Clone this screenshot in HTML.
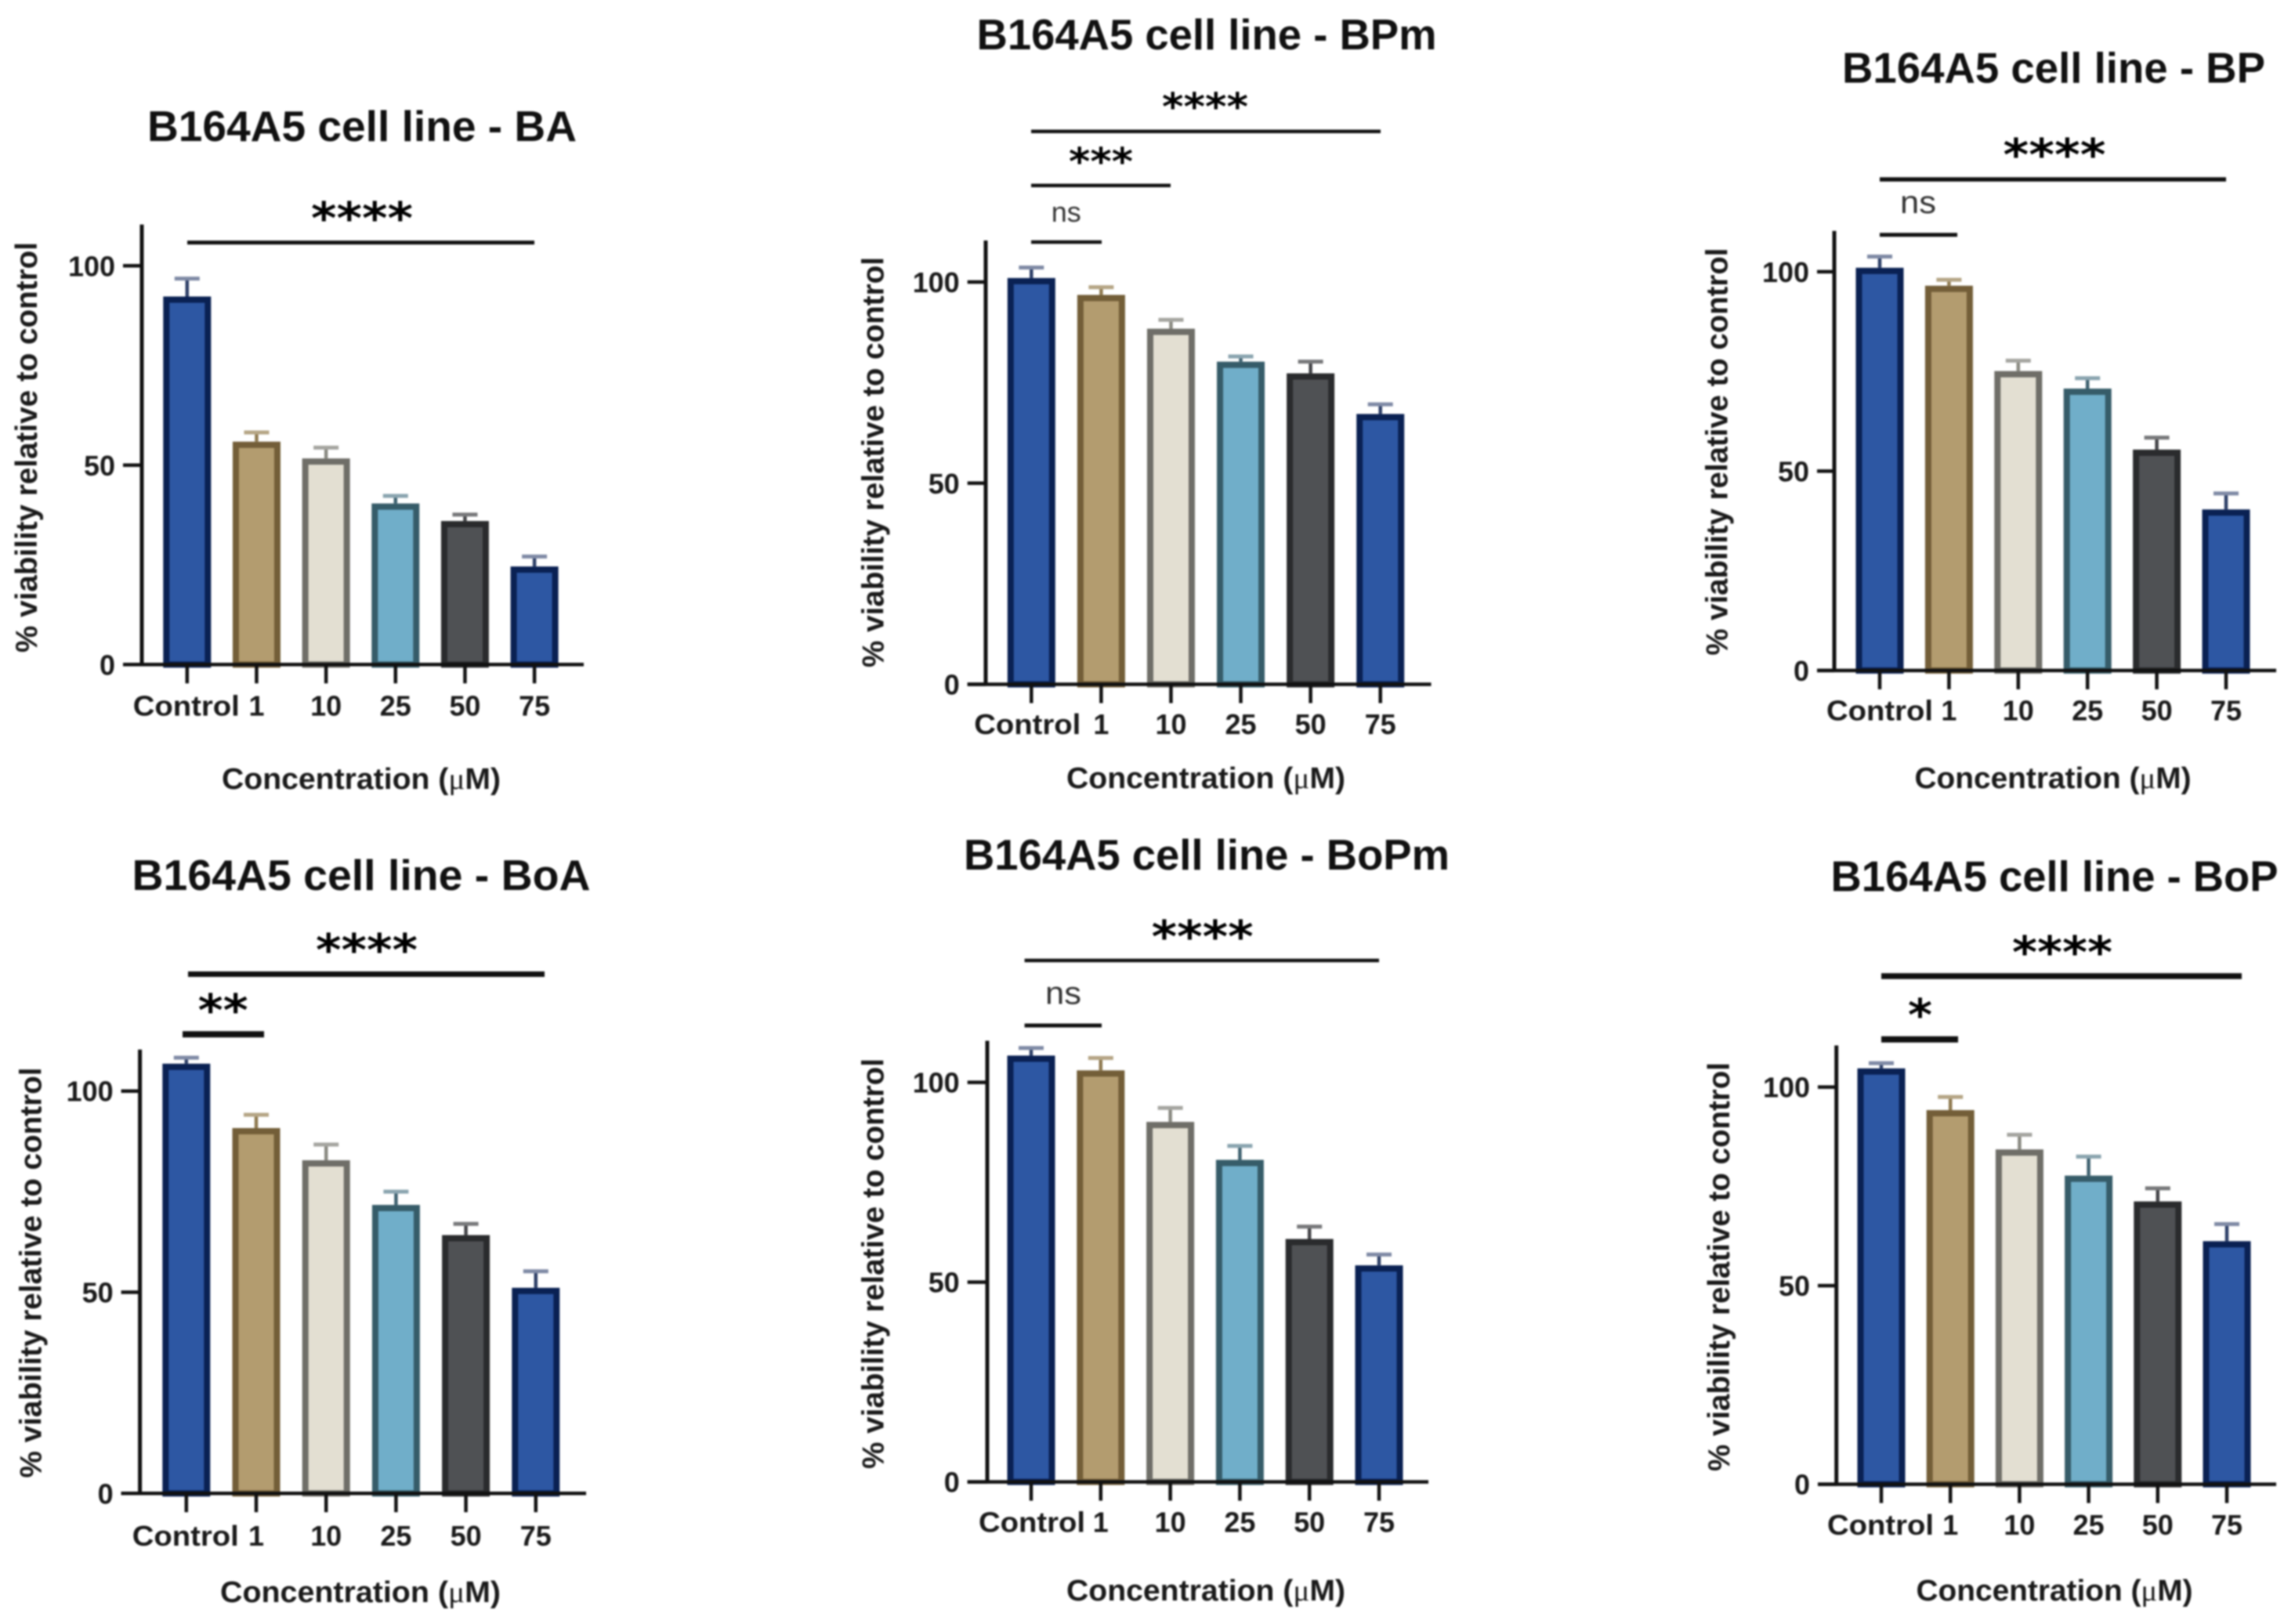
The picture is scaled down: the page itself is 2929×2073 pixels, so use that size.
<!DOCTYPE html>
<html lang="en">
<head>
<meta charset="utf-8">
<title>B164A5 cell line viability</title>
<style>
html,body{margin:0;padding:0;background:#fff;width:2929px;height:2073px;overflow:hidden}
svg{display:block;filter:blur(1.1px)}
text{font-family:"Liberation Sans",Arial,sans-serif;fill:#111}
.title{font-weight:700;font-size:55px;text-anchor:middle}
.xt{font-weight:700;font-size:38px;text-anchor:middle;fill:#1a1a1a}
.mu{font-family:"Liberation Serif",serif;font-weight:400}
.yt{font-weight:700;font-size:38.5px;text-anchor:middle;fill:#1a1a1a}
.star{font-family:"DejaVu Sans",sans-serif;font-weight:700;font-size:56px;text-anchor:middle;fill:#000}
.star-sm{font-family:"DejaVu Sans",sans-serif;font-weight:700;font-size:48px;text-anchor:middle;fill:#000}
.ns{font-size:36px;text-anchor:middle;fill:#333}
.ns-lg{font-size:41px;text-anchor:middle;fill:#333}
.tick-label{font-weight:700;font-size:36px;fill:#1a1a1a}
.sig{stroke:#111;fill:none}
</style>
</head>
<body>
<svg id="figure" xmlns="http://www.w3.org/2000/svg" width="2929" height="2073" viewBox="0 0 2929 2073">
<rect width="2929" height="2073" fill="#fff"/>

<g id="panel-ba">
<text class="title" x="462" y="180" textLength="548" lengthAdjust="spacingAndGlyphs">B164A5 cell line - BA</text>
<text class="yt" transform="translate(47 571) rotate(-90)" textLength="524" lengthAdjust="spacingAndGlyphs">% viability relative to control</text>
<text class="xt" x="461" y="1007" textLength="356" lengthAdjust="spacingAndGlyphs">Concentration (<tspan class="mu">μ</tspan>M)</text>
<line class="sig" x1="239" x2="682" y1="309.6" y2="309.6" stroke-width="5"/>
<text class="star" x="462" y="298" textLength="130" lengthAdjust="spacingAndGlyphs">****</text>
</g>

<g id="panel-bpm">
<text class="title" x="1540" y="63" textLength="587" lengthAdjust="spacingAndGlyphs">B164A5 cell line - BPm</text>
<text class="yt" transform="translate(1127.5 590) rotate(-90)" textLength="524" lengthAdjust="spacingAndGlyphs">% viability relative to control</text>
<text class="xt" x="1539" y="1006" textLength="356" lengthAdjust="spacingAndGlyphs">Concentration (<tspan class="mu">μ</tspan>M)</text>
<line class="sig" x1="1316" x2="1762" y1="167.8" y2="167.8" stroke-width="4.5"/>
<text class="star-sm" x="1538" y="153" textLength="110" lengthAdjust="spacingAndGlyphs">****</text>
<line class="sig" x1="1316" x2="1494" y1="236.8" y2="236.8" stroke-width="4.5"/>
<text class="star-sm" x="1405" y="223" textLength="82" lengthAdjust="spacingAndGlyphs">***</text>
<line class="sig" x1="1316" x2="1406" y1="309" y2="309" stroke-width="4.5"/>
<text class="ns" x="1360.7" y="283" textLength="38" lengthAdjust="spacingAndGlyphs">ns</text>
</g>

<g id="panel-bp">
<text class="title" x="2621" y="105.5" textLength="540" lengthAdjust="spacingAndGlyphs">B164A5 cell line - BP</text>
<text class="yt" transform="translate(2204.6 576.6) rotate(-90)" textLength="520" lengthAdjust="spacingAndGlyphs">% viability relative to control</text>
<text class="xt" x="2620" y="1005.8" textLength="353" lengthAdjust="spacingAndGlyphs">Concentration (<tspan class="mu">μ</tspan>M)</text>
<line class="sig" x1="2399" x2="2841" y1="229" y2="229" stroke-width="5.5"/>
<text class="star" x="2622" y="217" textLength="131" lengthAdjust="spacingAndGlyphs">****</text>
<line class="sig" x1="2399" x2="2498" y1="299.8" y2="299.8" stroke-width="5"/>
<text class="ns-lg" x="2448" y="272" textLength="46" lengthAdjust="spacingAndGlyphs">ns</text>
</g>

<g id="panel-boa">
<text class="title" x="461" y="1136" textLength="585" lengthAdjust="spacingAndGlyphs">B164A5 cell line - BoA</text>
<text class="yt" transform="translate(52.5 1624.5) rotate(-90)" textLength="524" lengthAdjust="spacingAndGlyphs">% viability relative to control</text>
<text class="xt" x="460" y="2045" textLength="358" lengthAdjust="spacingAndGlyphs">Concentration (<tspan class="mu">μ</tspan>M)</text>
<line class="sig" x1="240" x2="695" y1="1243.5" y2="1243.5" stroke-width="7"/>
<text class="star" x="468" y="1232" textLength="130" lengthAdjust="spacingAndGlyphs">****</text>
<line class="sig" x1="233" x2="337" y1="1320.3" y2="1320.3" stroke-width="8"/>
<text class="star" x="284.7" y="1309" textLength="64" lengthAdjust="spacingAndGlyphs">**</text>
</g>

<g id="panel-bopm">
<text class="title" x="1540" y="1110" textLength="620" lengthAdjust="spacingAndGlyphs">B164A5 cell line - BoPm</text>
<text class="yt" transform="translate(1127.5 1613) rotate(-90)" textLength="524" lengthAdjust="spacingAndGlyphs">% viability relative to control</text>
<text class="xt" x="1539" y="2042.8" textLength="356" lengthAdjust="spacingAndGlyphs">Concentration (<tspan class="mu">μ</tspan>M)</text>
<line class="sig" x1="1307.6" x2="1760" y1="1226" y2="1226" stroke-width="4.5"/>
<text class="star" x="1534.7" y="1215" textLength="130" lengthAdjust="spacingAndGlyphs">****</text>
<line class="sig" x1="1307.6" x2="1406" y1="1309" y2="1309" stroke-width="5"/>
<text class="ns-lg" x="1357" y="1281.6" textLength="46" lengthAdjust="spacingAndGlyphs">ns</text>
</g>

<g id="panel-bop">
<text class="title" x="2622" y="1137.5" textLength="571" lengthAdjust="spacingAndGlyphs">B164A5 cell line - BoP</text>
<text class="yt" transform="translate(2207 1617) rotate(-90)" textLength="522" lengthAdjust="spacingAndGlyphs">% viability relative to control</text>
<text class="xt" x="2622" y="2043" textLength="353" lengthAdjust="spacingAndGlyphs">Concentration (<tspan class="mu">μ</tspan>M)</text>
<line class="sig" x1="2401" x2="2861" y1="1246" y2="1246" stroke-width="7.5"/>
<text class="star" x="2632" y="1235" textLength="128" lengthAdjust="spacingAndGlyphs">****</text>
<line class="sig" x1="2401" x2="2499" y1="1326.8" y2="1326.8" stroke-width="8"/>
<text class="star" x="2450.5" y="1315" textLength="31" lengthAdjust="spacingAndGlyphs">*</text>
</g>
</svg>

<script>
const categories = ['Control', '1', '10', '25', '50', '75'];
const yTicks = [0, 50, 100];

const baValues = [92.3, 55.9, 51.7, 40.4, 36, 24.6];
const baErrors = [4.5, 2.3, 2.7, 1.9, 1.6, 2.5];
const bpmValues = [101, 96.8, 88.4, 80.2, 77.3, 67.2];
const bpmErrors = [2.6, 1.9, 2.2, 1.3, 2.9, 2.4];
const bpValues = [101, 96.5, 75.1, 70.7, 55.4, 40.4];
const bpErrors = [2.8, 1.5, 2.6, 2.6, 3, 4];
const boaValues = [106.8, 90.8, 82.8, 71.7, 64.2, 51.1];
const boaErrors = [1.5, 3.3, 3.9, 3.3, 2.8, 4.1];
const bopmValues = [106.7, 103, 90.1, 80.6, 60.8, 54.2];
const bopmErrors = [1.9, 3.1, 3.5, 3.5, 3.1, 2.7];
const bopValues = [104.7, 94.2, 84.3, 77.7, 71.2, 61.2];
const bopErrors = [1.3, 3.3, 3.7, 4.8, 3.3, 4.3];

const NS = 'http://www.w3.org/2000/svg';
const barFill = ['#2d57a3', '#b39c6f', '#e3dfd2', '#70aec9', '#4f5154', '#2d57a3'];
const barEdge = ['#0a2153', '#735e38', '#6f6e68', '#365c69', '#2a2b2d', '#0a2153'];
const stemEdge = ['#2e4068', '#8f7a50', '#8a8a82', '#3f6270', '#444548', '#2e4068'];
const capEdge = ['#7f8aa5', '#b5a585', '#a5a5a0', '#8aa4af', '#77787a', '#7f8aa5'];

function make(parent, tag, attrs) {
  const node = document.createElementNS(NS, tag);
  for (const k in attrs) node.setAttribute(k, attrs[k]);
  parent.appendChild(node);
  return node;
}

function drawPanel(p) {
  const g = document.getElementById(p.id);
  const xScale = i => p.x0 + i * p.step;
  const yScale = v => p.y0 - v * p.unit;

  categories.forEach((cat, i) => {
    const cx = xScale(i);
    const top = yScale(p.values[i]);
    const errTop = yScale(p.values[i] + p.errors[i]);

    const stem = make(g, 'line', {x1: cx, x2: cx, y1: top, y2: errTop, stroke: stemEdge[i], 'stroke-width': 4.5});
    
    

    const cap = make(g, 'line', {x1: cx - 16, x2: cx + 16, y1: errTop, y2: errTop, stroke: capEdge[i], 'stroke-width': 5});
    
    

    const bar = make(g, 'rect', {x: cx - 26.5, y: top + 4, width: 53, height: Math.max(0, p.y0 - top - 4), fill: barFill[i], stroke: barEdge[i], 'stroke-width': 8});
    
    

    const tick = make(g, 'line', {x1: cx, x2: cx, y1: p.y0, y2: p.y0 + 24, stroke: '#111', 'stroke-width': 4.5});
    
    

    const isControl = cat === 'Control';
    const label = make(g, 'text', {
      class: 'tick-label', 'text-anchor': 'middle',
      x: cx + (isControl ? p.controlShift : 0), y: p.labelY,
      textLength: isControl ? 136 : cat.length * 20, lengthAdjust: 'spacingAndGlyphs'
    });
    label.textContent = cat;
    
    
  });

  yTicks.forEach(v => {
    const y = yScale(v);
    const tick = make(g, 'line', {x1: p.tickLeft, x2: p.axisX, y1: y, y2: y, stroke: '#111', 'stroke-width': 4.5});
    
    

    const s = String(v);
    const label = make(g, 'text', {
      class: 'tick-label', 'text-anchor': 'end',
      x: p.tickLeft - 10, y: y + 13,
      textLength: s.length * 20, lengthAdjust: 'spacingAndGlyphs'
    });
    label.textContent = s;
    
    
  });

  const yAxis = make(g, 'line', {x1: p.axisX, x2: p.axisX, y1: p.axisTop, y2: p.y0 + 2, stroke: '#111', 'stroke-width': 5});
  
  

  const xAxis = make(g, 'line', {x1: p.tickLeft, x2: p.right, y1: p.y0, y2: p.y0, stroke: '#111', 'stroke-width': 4.5});
  
  
}

drawPanel({id: 'panel-ba', values: baValues, errors: baErrors, x0: 238.8, step: 88.66, y0: 848.3, unit: 5.09, axisTop: 286.6, axisX: 181, right: 745, tickLeft: 157, labelY: 913.7, controlShift: -1});
drawPanel({id: 'panel-bpm', values: bpmValues, errors: bpmErrors, x0: 1316.3, step: 89.08, y0: 873.5, unit: 5.135, axisTop: 307, axisX: 1258, right: 1826.5, tickLeft: 1234.7, labelY: 937, controlShift: -5});
drawPanel({id: 'panel-bp', values: bpValues, errors: bpErrors, x0: 2399, step: 88.4, y0: 855.9, unit: 5.09, axisTop: 294.7, axisX: 2341, right: 2905, tickLeft: 2319, labelY: 919.7, controlShift: 0});
drawPanel({id: 'panel-boa', values: boaValues, errors: boaErrors, x0: 237.8, step: 89.2, y0: 1906.3, unit: 5.136, axisTop: 1339.7, axisX: 178.6, right: 748, tickLeft: 154.6, labelY: 1972.8, controlShift: -1});
drawPanel({id: 'panel-bopm', values: bopmValues, errors: bopmErrors, x0: 1316, step: 88.8, y0: 1891.6, unit: 5.1, axisTop: 1328.5, axisX: 1260, right: 1823, tickLeft: 1234.7, labelY: 1955.4, controlShift: 1});
drawPanel({id: 'panel-bop', values: bopValues, errors: bopErrors, x0: 2401, step: 88.2, y0: 1894.6, unit: 5.07, axisTop: 1334.5, axisX: 2343.7, right: 2905, tickLeft: 2320, labelY: 1959, controlShift: -1});
</script>
</body>
</html>
